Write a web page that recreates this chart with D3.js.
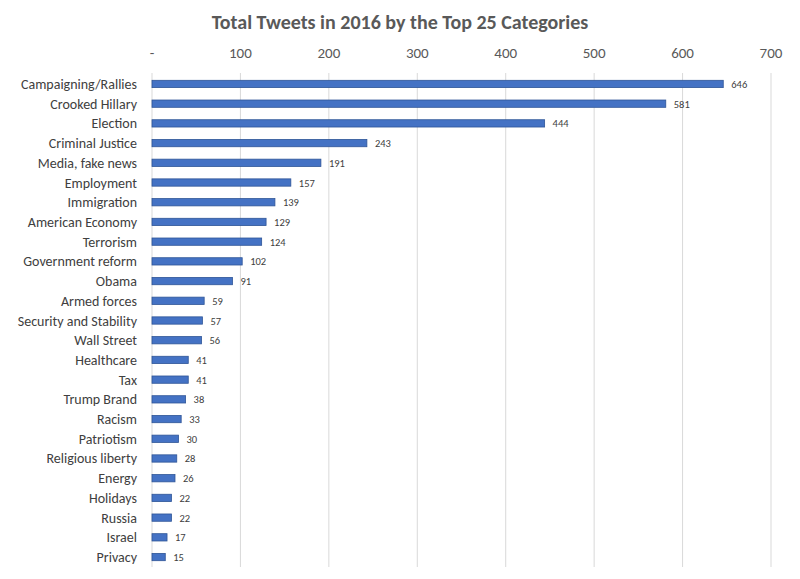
<!DOCTYPE html>
<html><head><meta charset="utf-8">
<script src="https://cdn.jsdelivr.net/npm/d3@7"></script>
<style>body{margin:0;background:#fff;}text{font-family:Calibri,"Liberation Sans","Open Sans",sans-serif;}</style>
</head><body>
<svg id="c" width="800" height="579"></svg>
<script>
const categories = ["Campaigning/Rallies","Crooked Hillary","Election","Criminal Justice","Media, fake news","Employment","Immigration","American Economy","Terrorism","Government reform","Obama","Armed forces","Security and Stability","Wall Street","Healthcare","Tax","Trump Brand","Racism","Patriotism","Religious liberty","Energy","Holidays","Russia","Israel","Privacy"];
const values = [646,581,444,243,191,157,139,129,124,102,91,59,57,56,41,41,38,33,30,28,26,22,22,17,15];
const tickValues = [0,100,200,300,400,500,600,700];
const tickLabels = ["-","100","200","300","400","500","600","700"];

const svg = d3.select("#c");
const x = d3.scaleLinear().domain([0,700]).range([152,771]);
const y = d3.scaleBand().domain(categories).range([74,567]).paddingInner(0.63).paddingOuter(0.32);

svg.append("text").attr("x",400).attr("y",29).attr("text-anchor","middle")
  .attr("font-size",20).attr("font-weight","bold").attr("fill","#595959")
  .text("Total Tweets in 2016 by the Top 25 Categories");

svg.append("g").selectAll("line").data(tickValues).join("line")
  .attr("x1",d=>x(d)).attr("x2",d=>x(d)).attr("y1",73).attr("y2",567)
  .attr("stroke","#d9d9d9").attr("stroke-width",1);

svg.append("g").selectAll("text").data(tickValues).join("text")
  .attr("x",d=>x(d)).attr("y",58).attr("text-anchor","middle")
  .attr("font-size",15).attr("fill","#595959").text((d,i)=>tickLabels[i]);

svg.append("g").selectAll("rect").data(values).join("rect")
  .attr("x",x(0)).attr("y",(d,i)=>y(categories[i]))
  .attr("width",d=>x(d)-x(0)).attr("height",y.bandwidth())
  .attr("fill","#4472C4").attr("stroke","#2F5597").attr("stroke-width",0.8);

svg.append("g").selectAll("text").data(values).join("text")
  .attr("x",d=>x(d)+8).attr("y",(d,i)=>y(categories[i])+y.bandwidth()/2+4)
  .attr("font-size",10.5).attr("fill","#404040").text(d=>d);

svg.append("g").selectAll("text").data(categories).join("text")
  .attr("x",137).attr("y",d=>y(d)+y.bandwidth()/2+5).attr("text-anchor","end")
  .attr("font-size",14).attr("fill","#404040").text(d=>d);
</script>
</body></html>
